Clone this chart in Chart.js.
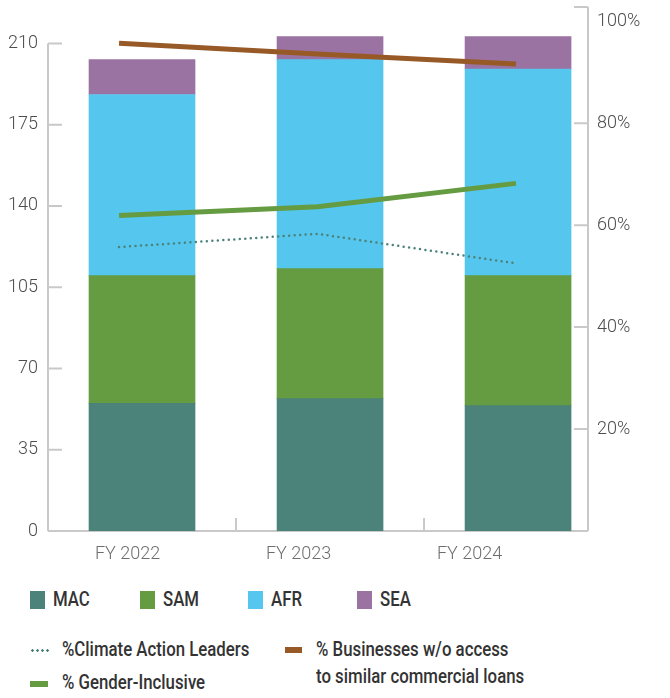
<!DOCTYPE html>
<html>
<head>
<meta charset="utf-8">
<script src="https://cdn.jsdelivr.net/npm/chart.js@4.4.1/dist/chart.umd.min.js"></script>
<style>
  body { margin: 0; background: #fff; font-family: Roboto, sans-serif; }
  #wrap { position: relative; width: 670px; height: 698px; overflow: hidden; }
  canvas { position: absolute; left: 0; top: 0; }
  .lg-text {
    position: absolute; white-space: nowrap;
    font: 500 21px/27px Roboto, sans-serif; color: #333;
    transform: scaleX(0.8); transform-origin: left center;
  }
  .lg-box { position: absolute; width: 15px; height: 18px; top: 591px; }
  .lg-mark { position: absolute; }
</style>
</head>
<body>
<div id="wrap">
  <canvas id="chart" width="670" height="575"></canvas>
  <div id="legend"></div>
</div>
<script>
const years = ['FY 2022', 'FY 2023', 'FY 2024'];

// Loans by region (left axis)
const mac = [55, 57, 54];
const sam = [55, 56, 56];
const afr = [78, 90, 89];
const sea = [15, 10, 14];

// Portfolio shares in % (right axis)
const climateLeaders = [55.7, 58.3, 52.5];
const genderInclusive = [61.9, 63.6, 68.2];
const noCommercialAccess = [95.7, 93.6, 91.6];

const countTicks = [0, 35, 70, 105, 140, 175, 210];
const pctTicks = [20, 40, 60, 80, 100];

const axisGray = '#c9c9c9';
const tickFont = { family: 'Roboto', size: 18, weight: '300' };

const toPoints = arr => arr.map((v, i) => ({ x: i, y: v }));

function barSet(label, data, color) {
  return {
    type: 'bar', label: label, data: toPoints(data),
    backgroundColor: color, xAxisID: 'x', yAxisID: 'y',
    barThickness: 106, grouped: false, order: 2
  };
}

function lineSet(label, data, color, extra) {
  return Object.assign({
    type: 'line', label: label, data: toPoints(data),
    borderColor: color, backgroundColor: color, xAxisID: 'xLine', yAxisID: 'y1',
    pointRadius: 0, tension: 0, fill: false, order: 1
  }, extra);
}

const datasets = [
  barSet('MAC', mac, '#4b8279'),
  barSet('SAM', sam, '#659b41'),
  barSet('AFR', afr, '#55c6ee'),
  barSet('SEA', sea, '#9b73a2'),
  lineSet('%Climate Action Leaders', climateLeaders, '#4b8279',
    { borderWidth: 2.5, borderDash: [0, 5.5], borderCapStyle: 'round' }),
  lineSet('% Gender-Inclusive', genderInclusive, '#659b41', { borderWidth: 5 }),
  lineSet('% Businesses w/o access to similar commercial loans', noCommercialAccess, '#975a27', { borderWidth: 5 })
];

// Axis lines with inward tick marks; the left one stops at its top tick
const axisLines = {
  id: 'axisLines',
  beforeDatasetsDraw(chart) {
    const { ctx, chartArea: a, scales } = chart;
    const y = scales.y, y1 = scales.y1, x = scales.x;
    ctx.save();
    ctx.strokeStyle = axisGray;
    ctx.lineWidth = 2;
    ctx.beginPath();
    const topCount = countTicks[countTicks.length - 1];
    ctx.moveTo(a.left, a.bottom);
    ctx.lineTo(a.left, y.getPixelForValue(topCount));
    countTicks.forEach(v => {
      const py = y.getPixelForValue(v);
      ctx.moveTo(a.left, py);
      ctx.lineTo(a.left + 14, py);
    });
    ctx.moveTo(a.right, a.bottom);
    ctx.lineTo(a.right, a.top);
    ctx.moveTo(a.right, a.top);
    ctx.lineTo(a.right - 14, a.top);
    pctTicks.filter(v => v < 100).forEach(v => {
      const py = y1.getPixelForValue(v);
      ctx.moveTo(a.right, py);
      ctx.lineTo(a.right - 14, py);
    });
    ctx.moveTo(a.left, a.bottom);
    ctx.lineTo(a.right, a.bottom);
    for (let i = 0; i < years.length - 1; i++) {
      const px = x.getPixelForValue(i + 0.5);
      ctx.moveTo(px, a.bottom);
      ctx.lineTo(px, a.bottom - 13);
    }
    ctx.stroke();
    ctx.restore();
  }
};

const chart = new Chart(document.getElementById('chart'), {
  type: 'bar',
  data: { datasets: datasets },
  plugins: [axisLines],
  options: {
    responsive: false,
    animation: false,
    layout: { padding: { top: 7 } },
    plugins: { legend: { display: false }, tooltip: { enabled: false } },
    scales: {
      x: {
        type: 'linear', display: false, stacked: true, offset: false,
        bounds: 'data', min: -0.5, max: 2.372
      },
      xLine: {
        type: 'linear', display: false, offset: false,
        bounds: 'data', min: -0.358, max: 2.363
      },
      xLab: {
        type: 'linear', position: 'bottom', offset: false,
        bounds: 'data', min: -0.465, max: 2.693,
        grid: { display: false, drawTicks: false },
        border: { display: false },
        afterBuildTicks: s => { s.ticks = years.map((_, i) => ({ value: i })); },
        afterFit: s => { s.height = 44; s.paddingLeft = 0; s.paddingRight = 0; },
        ticks: {
          callback: v => years[v], autoSkip: false, maxRotation: 0,
          padding: 13, color: '#6e6e6e', font: tickFont
        }
      },
      y: {
        position: 'left', stacked: true, bounds: 'data', min: 0, max: 225.7,
        grid: { display: false, drawTicks: false },
        border: { display: false },
        afterBuildTicks: s => { s.ticks = countTicks.map(v => ({ value: v })); },
        afterFit: s => { s.width = 48; s.paddingTop = 0; s.paddingBottom = 0; },
        ticks: { padding: 10, color: '#4d4d4d', font: tickFont }
      },
      y1: {
        position: 'right', bounds: 'data', min: 0, max: 102.8,
        grid: { display: false, drawTicks: false },
        border: { display: false },
        afterBuildTicks: s => { s.ticks = pctTicks.map(v => ({ value: v })); },
        afterFit: s => { s.width = 82; s.paddingTop = 0; s.paddingBottom = 0; },
        ticks: { padding: 9, color: '#4d4d4d', font: tickFont, callback: v => v + '%' }
      }
    }
  }
});

// Legend below the chart
const legend = document.getElementById('legend');
function add(cls, css, text) {
  const el = document.createElement('div');
  el.className = cls;
  Object.assign(el.style, css);
  if (text) el.textContent = text;
  legend.appendChild(el);
  return el;
}

const boxLeft = [30, 140, 248, 357];
chart.data.datasets.slice(0, 4).forEach((ds, i) => {
  add('lg-box', { left: boxLeft[i] + 'px', background: ds.backgroundColor });
  add('lg-text', { left: (boxLeft[i] + 23) + 'px', top: '586px' }, ds.label);
});

const [climate, gender, access] = chart.data.datasets.slice(4);
add('lg-mark', {
  left: '30px', top: '649px', width: '21px', height: '3px',
  background: 'radial-gradient(circle, ' + climate.borderColor + ' 1.1px, transparent 1.5px) 0 0 / 5px 3px repeat-x'
});
add('lg-text', { left: '62px', top: '636px' }, climate.label);
add('lg-mark', { left: '30px', top: '681px', width: '18px', height: '6px', background: gender.borderColor });
add('lg-text', { left: '62px', top: '669px' }, gender.label);
add('lg-mark', { left: '285px', top: '647px', width: '17px', height: '6px', background: access.borderColor });
add('lg-text', { left: '316px', top: '636px' }, '% Businesses w/o access');
add('lg-text', { left: '316px', top: '663px' }, 'to similar commercial loans');
</script>
</body>
</html>
